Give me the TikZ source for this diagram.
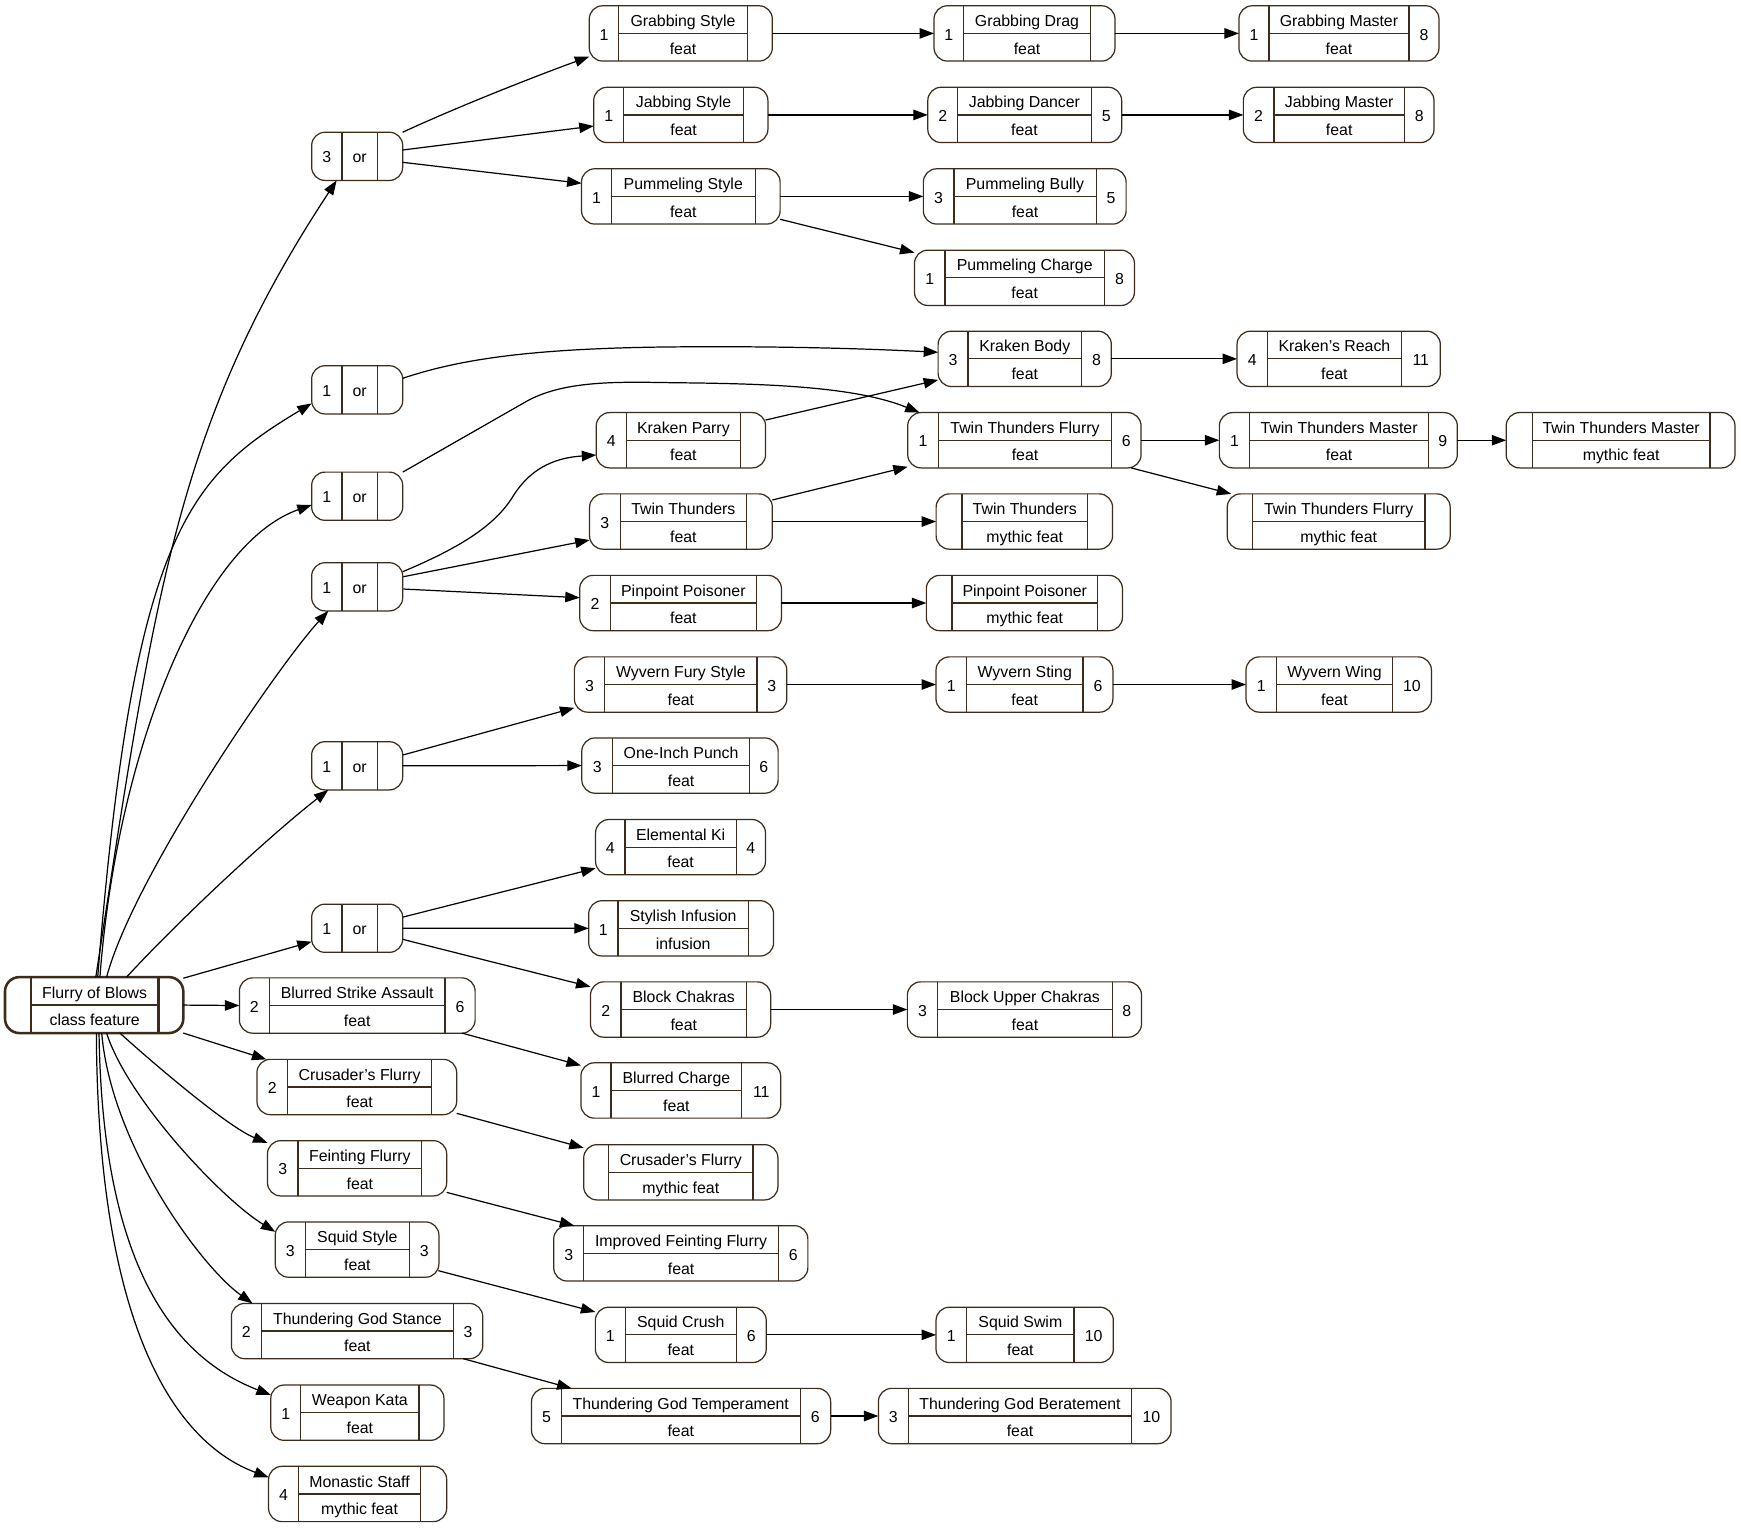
\documentclass[tikz,border=0pt]{standalone}
\usepackage{fontspec}
\setmainfont{Liberation Sans}
\usetikzlibrary{arrows.meta,calc}
\definecolor{nodeline}{RGB}{61,43,28}
\newcommand\fsz{\fontsize{14.3}{17}\selectfont}
\tikzset{
  recbox/.style={draw=nodeline,line width=1.1pt,rounded corners=12pt,inner sep=0pt,outer sep=0pt,rectangle},
  divline/.style={draw=nodeline,line width=1.1pt},
  lbl/.style={inner sep=0pt,outer sep=0pt,text height=10.2pt,text depth=0pt,font=\fsz},
  conn/.style={draw=black,line width=1.1pt,-{Triangle[length=13pt,width=9.4pt]}}
}
\newcommand\recnode[6]{\def\rcNm{#1}\def\rcXa{#2}\def\rcXb{#3}\def\rcDa{#4}\def\rcDb{#5}\def\rcY{#6}\recnodefill}
\newcommand\recnodefill[4]{%
  \pgfmathsetmacro\rcW{\rcXb-\rcXa}%
  \pgfmathsetmacro\rcX{(\rcXa+\rcXb)/2}%
  \pgfmathsetmacro\rcT{\rcY-24.9}%
  \pgfmathsetmacro\rcB{\rcY+24.9}%
  \pgfmathsetmacro\rcLx{(\rcXa+\rcDa)/2}%
  \pgfmathsetmacro\rcRx{(\rcDb+\rcXb)/2}%
  \pgfmathsetmacro\rcMx{(\rcDa+\rcDb)/2}%
  \pgfmathsetmacro\rcTy{\rcY-12.45+1.1}%
  \pgfmathsetmacro\rcBy{\rcY+12.45+1.1}%
  \pgfmathsetmacro\rcCy{\rcY+0.9}%
  \node[recbox,minimum width=\rcW pt,minimum height=49.8pt] (\rcNm) at (\rcX,\rcY) {};
  \draw[divline] (\rcDa,\rcT) -- (\rcDa,\rcB) (\rcDb,\rcT) -- (\rcDb,\rcB) (\rcDa,\rcY) -- (\rcDb,\rcY);
  \node[lbl] (\rcNm-l) at (\rcLx,\rcCy) {#1};
  \node[lbl] (\rcNm-t) at (\rcMx,\rcTy) {#2};
  \node[lbl] (\rcNm-k) at (\rcMx,\rcBy) {#3};
  \node[lbl] (\rcNm-r) at (\rcRx,\rcCy) {#4};
}
\newcommand\ornode[3]{%
  \pgfmathsetmacro\orT{#2-21.7}%
  \pgfmathsetmacro\orB{#2+21.7}%
  \pgfmathsetmacro\orC{#2+0.9}%
  \node[recbox,minimum width=82pt,minimum height=43.4pt] (#1) at (321.7,#2) {};
  \draw[divline] (308,\orT) -- (308,\orB) (339.8,\orT) -- (339.8,\orB);
  \node[lbl] (#1-l) at (294.35,\orC) {#3};
  \node[lbl] (#1-t) at (323.9,\orC) {or};
}
\begin{document}
\begin{tikzpicture}[x=1pt,y=-1pt]
\fill[white] (0,0) rectangle (1568,1375.3);
\useasboundingbox (0,0) rectangle (1568,1375.3);

% root
\node[recbox,line width=2.3pt,rounded corners=13pt,minimum width=160.6pt,minimum height=50.4pt] (fob) at (84.8,905.2) {};
\draw[divline,line width=2.3pt] (27.9,880) -- (27.9,930.4) (142.6,880) -- (142.6,930.4) (27.9,905.2) -- (142.6,905.2);
\node[lbl] (fob-t) at (85.25,893.8) {Flurry of Blows};
\node[lbl] (fob-k) at (85.25,918.6) {class feature};

% or nodes
\ornode{or1}{140.8}{3}
\ornode{orA}{351.1}{1}
\ornode{orB}{446.9}{1}
\ornode{orC}{528.5}{1}
\ornode{orD}{689.7}{1}
\ornode{orE}{836}{1}

% record nodes
\recnode{gs}{530.7}{695.6}{557.2}{673.1}{30.1}{1}{Grabbing Style}{feat}{}
\recnode{gd}{841.2}{1004.2}{867.6}{982.3}{30.1}{1}{Grabbing Drag}{feat}{}
\recnode{gm}{1115.8}{1296}{1142.8}{1269}{30.1}{1}{Grabbing Master}{feat}{8}
\recnode{js}{534.7}{691.6}{561.7}{669.6}{103.5}{1}{Jabbing Style}{feat}{}
\recnode{jd}{835.6}{1010.2}{862.6}{982.7}{103.5}{2}{Jabbing Dancer}{feat}{5}
\recnode{jm}{1119.8}{1291.5}{1147.3}{1264.9}{103.5}{2}{Jabbing Master}{feat}{8}
\recnode{ps}{523.7}{702.6}{550.7}{680.1}{176.9}{1}{Pummeling Style}{feat}{}
\recnode{pb}{831.6}{1014.2}{859.1}{987.2}{176.9}{3}{Pummeling Bully}{feat}{5}
\recnode{pc}{823.6}{1021.7}{851.1}{994.7}{250.2}{1}{Pummeling Charge}{feat}{8}
\recnode{kb}{844.9}{1000.9}{871.7}{974.2}{323.2}{3}{Kraken Body}{feat}{8}
\recnode{kr}{1114.1}{1297.2}{1141.6}{1262}{323.2}{4}{Kraken’s Reach}{feat}{11}
\recnode{kp}{537}{689.5}{564.2}{666.8}{396.5}{4}{Kraken Parry}{feat}{}
\recnode{ttf}{817.5}{1027.7}{845.3}{1001}{396.5}{1}{Twin Thunders Flurry}{feat}{6}
\recnode{ttm}{1098.2}{1312.5}{1125.5}{1286.5}{396.5}{1}{Twin Thunders Master}{feat}{9}
\recnode{ttmm}{1356.5}{1562.6}{1380}{1540.1}{396.5}{}{Twin Thunders Master}{mythic feat}{}
\recnode{tt}{531}{695.6}{558.5}{672.4}{469.7}{3}{Twin Thunders}{feat}{}
\recnode{ttmy}{843.1}{1002}{866.3}{979.6}{469.7}{}{Twin Thunders}{mythic feat}{}
\recnode{ttfm}{1105.3}{1306.1}{1128}{1283.3}{469.7}{}{Twin Thunders Flurry}{mythic feat}{}
\recnode{pp}{522.1}{703.8}{549.6}{681.3}{543.1}{2}{Pinpoint Poisoner}{feat}{}
\recnode{ppm}{834.3}{1010.9}{857.4}{988.5}{543.1}{}{Pinpoint Poisoner}{mythic feat}{}
\recnode{wfs}{517.3}{708.6}{544.7}{681.7}{616.5}{3}{Wyvern Fury Style}{feat}{3}
\recnode{wst}{843}{1002.3}{870.4}{975.4}{616.5}{1}{Wyvern Sting}{feat}{6}
\recnode{wwi}{1122.2}{1289.2}{1149.6}{1254.1}{616.5}{1}{Wyvern Wing}{feat}{10}
\recnode{oip}{524}{700.8}{551.9}{674.9}{689.5}{3}{One-Inch Punch}{feat}{6}
\recnode{ek}{536.4}{689.4}{562.8}{663.1}{763}{4}{Elemental Ki}{feat}{4}
\recnode{si}{530.2}{696.7}{556.6}{674}{836.1}{1}{Stylish Infusion}{infusion}{}
\recnode{bch}{531.8}{694.1}{559.2}{672.4}{909.2}{2}{Block Chakras}{feat}{}
\recnode{buc}{817.2}{1028.1}{844.5}{1001.7}{909.2}{3}{Block Upper Chakras}{feat}{8}
\recnode{bsa}{215.6}{427.9}{242.6}{400.8}{905.6}{2}{Blurred Strike Assault}{feat}{6}
\recnode{bc}{523.2}{703.1}{550.2}{668.1}{982.1}{1}{Blurred Charge}{feat}{11}
\recnode{cf}{231.4}{411.3}{258.9}{388.8}{979}{2}{Crusader’s Flurry}{feat}{}
\recnode{cfm}{525.7}{700.6}{548.2}{678.1}{1055.8}{}{Crusader’s Flurry}{mythic feat}{}
\recnode{ff}{240.9}{402.3}{268.4}{379.8}{1052.2}{3}{Feinting Flurry}{feat}{}
\recnode{iff}{498.7}{727.6}{525.7}{701.1}{1128.8}{3}{Improved Feinting Flurry}{feat}{6}
\recnode{ss}{247.9}{395.3}{274.9}{368.8}{1125.4}{3}{Squid Style}{feat}{3}
\recnode{sc}{536.2}{690.1}{563.2}{663.1}{1202.2}{1}{Squid Crush}{feat}{6}
\recnode{sw}{843}{1002.7}{870.6}{967.3}{1202.2}{1}{Squid Swim}{feat}{10}
\recnode{tgs}{208.4}{434.8}{235.4}{408.3}{1198.8}{2}{Thundering God Stance}{feat}{3}
\recnode{tgt}{478.7}{748.1}{505.7}{720.6}{1275.3}{5}{Thundering God Temperament}{feat}{6}
\recnode{tgb}{791.1}{1054.7}{818.1}{1019.3}{1275.3}{3}{Thundering God Beratement}{feat}{10}
\recnode{wk}{243.9}{399.8}{270.9}{377.3}{1272.3}{1}{Weapon Kata}{feat}{}
\recnode{ms}{241.9}{402.3}{268.9}{378.8}{1345.5}{4}{Monastic Staff}{mythic feat}{}

% connectors from the root
\draw[conn] ($(fob.north)+(1.5,0)$) .. controls (140,530) and (160,380) .. ($(or1.south west)+(22.5,0)$);
\draw[conn] ($(fob.north)+(3.2,0)$) .. controls (120,480) and (170,430) .. ($(orA.west)+(0,12.2)$);
\draw[conn] ($(fob.north)+(5.2,0)$) .. controls (105,680) and (180,490) .. ($(orB.west)+(0,7.9)$);
\draw[conn] ($(fob.north)+(11.2,0)$) .. controls (120,790) and (250,600) .. ($(orC.south west)+(15,0)$);
\draw[conn] ($(fob.north)+(29.2,0)$) .. controls (160,830) and (240,755) .. ($(orD.south west)+(15,0)$);
\draw[conn] ($(fob.north east)+(0,1)$) -- ($(orE.west)+(0,12.1)$);
\draw[conn] (fob.east) -- (bsa.west);
\draw[conn] (fob.south east) -- ($(cf.north west)+(8.5,0)$);
\draw[conn] ($(fob.south)+(23.2,0)$) .. controls (135,955) and (205,1015) .. ($(ff.north west)+(0,2)$);
\draw[conn] ($(fob.south)+(11.2,0)$) .. controls (115,990) and (200,1080) .. ($(ss.west)+(0,-16)$);
\draw[conn] ($(fob.south)+(6.8,0)$) .. controls (100,1030) and (180,1140) .. ($(tgs.north west)+(19,0)$);
\draw[conn] ($(fob.south)+(4.4,0)$) .. controls (92,1130) and (150,1220) .. ($(wk.west)+(0,-16)$);
\draw[conn] ($(fob.south)+(2,0)$) .. controls (88,1200) and (160,1300) .. ($(ms.west)+(0,-15)$);

% connectors from the or nodes
\draw[conn] (or1.north east) .. controls (407,98.5) and (475.7,71) .. ($(gs.west)+(0,20.9)$);
\draw[conn] ($(or1.east)+(0,-5.7)$) -- ($(js.west)+(0,10)$);
\draw[conn] ($(or1.east)+(0,5.4)$) -- ($(ps.west)+(0,-11.8)$);
\draw[conn] ($(orA.east)+(0,-10.4)$) .. controls (410,325) and (470,314) .. (600,312.5) .. controls (700,311.5) and (780,314) .. ($(kb.west)+(0,-5.9)$);
\draw[conn] (orB.north east) -- (475,361) .. controls (510,342) and (560,344) .. (608,344.7) .. controls (690,345.5) and (770,348) .. ($(ttf.north west)+(10.7,0)$);
\draw[conn] ($(orC.east)+(0,-13.6)$) .. controls (410,495) and (445,475) .. (462,447) .. controls (480,418) and (505,412) .. ($(kp.west)+(0,13.3)$);
\draw[conn] ($(orC.east)+(0.5,-9.1)$) -- ($(tt.west)+(0,16.7)$);
\draw[conn] ($(orC.east)+(0.6,2)$) -- ($(pp.west)+(0,-4.8)$);
\draw[conn] ($(orD.east)+(0,-9.7)$) -- ($(wfs.west)+(0,21)$);
\draw[conn] (orD.east) -- (oip.west);
\draw[conn] ($(orE.east)+(0,-10)$) -- ($(ek.west)+(0,19)$);
\draw[conn] (orE.east) -- (si.west);
\draw[conn] ($(orE.east)+(0,10)$) -- ($(bch.west)+(0,-20.5)$);

% chains
\draw[conn] (gs.east) -- (gd.west);
\draw[conn] (gd.east) -- (gm.west);
\draw[conn] (js.east) -- (jd.west);
\draw[conn] (jd.east) -- (jm.west);
\draw[conn] (ps.east) -- (pb.west);
\draw[conn] ($(ps.east)+(0,20.6)$) -- ($(pc.west)+(0,-22.7)$);
\draw[conn] (kb.east) -- (kr.west);
\draw[conn] ($(kp.east)+(0,-18.2)$) -- ($(kb.west)+(0,19)$);
\draw[conn] (ttf.east) -- (ttm.west);
\draw[conn] (ttm.east) -- (ttmm.west);
\draw[conn] ($(ttf.south east)+(-9,0)$) -- ($(ttfm.north west)+(3.5,0)$);
\draw[conn] ($(tt.east)+(0,-19.4)$) -- ($(ttf.south west)+(0,-1)$);
\draw[conn] (tt.east) -- (ttmy.west);
\draw[conn] (pp.east) -- (ppm.west);
\draw[conn] (wfs.east) -- (wst.west);
\draw[conn] (wst.east) -- (wwi.west);
\draw[conn] (bch.east) -- (buc.west);
\draw[conn] ($(bsa.south east)+(-11.6,0)$) -- ($(bc.west)+(0,-22.5)$);
\draw[conn] ($(cf.east)+(0,23.7)$) -- ($(cfm.west)+(0,-22)$);
\draw[conn] ($(ff.east)+(0,21.7)$) -- ($(iff.north west)+(18.5,0)$);
\draw[conn] ($(ss.east)+(-0.5,19)$) -- ($(sc.west)+(0,-20.6)$);
\draw[conn] (sc.east) -- (sw.west);
\draw[conn] ($(tgs.south east)+(-17.5,0)$) -- ($(tgt.north west)+(36,0)$);
\draw[conn] (tgt.east) -- (tgb.west);
\end{tikzpicture}
\end{document}
